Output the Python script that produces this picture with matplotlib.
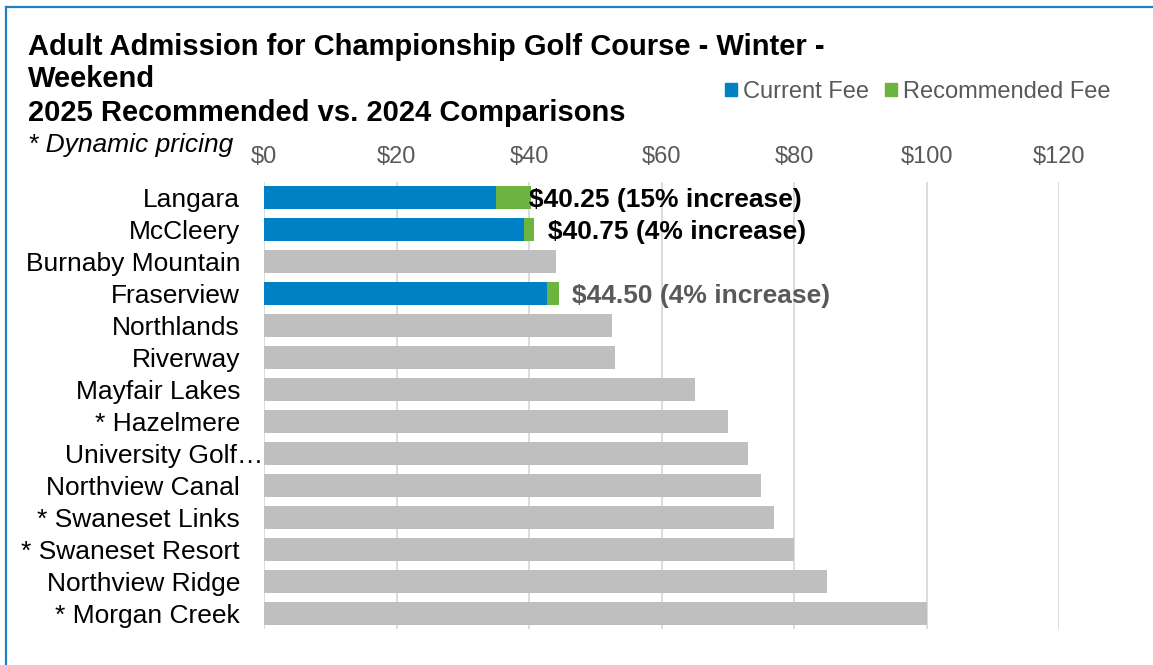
import numpy as np
import matplotlib
matplotlib.use("Agg")
import matplotlib.pyplot as plt
from matplotlib.patches import Patch

plt.rcParams['font.family'] = ['Liberation Sans', 'DejaVu Sans']

courses = ["Langara", "McCleery", "Burnaby Mountain", "Fraserview", "Northlands",
           "Riverway", "Mayfair Lakes", "* Hazelmere", "University Golf\u2026",
           "Northview Canal", "* Swaneset Links", "* Swaneset Resort",
           "Northview Ridge", "* Morgan Creek"]
# total (recommended fee for City courses, comparison fee otherwise)
fees = [40.25, 40.75, 44.00, 44.50, 52.50, 53.00, 65.00, 70.00, 73.00,
        75.00, 77.00, 80.00, 85.00, 100.00]
current_fee = [35.00, 39.25, np.nan, 42.75, np.nan, np.nan, np.nan, np.nan,
               np.nan, np.nan, np.nan, np.nan, np.nan, np.nan]
x_ticks = [0, 20, 40, 60, 80, 100, 120]
x_tick_labels = ["$0", "$20", "$40", "$60", "$80", "$100", "$120"]

BLUE = "#0081C6"
GREEN = "#6DB33F"
GRAY = "#BFBFBF"
GRID = "#D9D9D9"
DARK = "#595959"

W, H = 1153, 665
fig = plt.figure(figsize=(W / 100, H / 100), dpi=100)
ax = fig.add_axes([264 / W, 1 - 629 / H, (1059 - 264) / W, (629 - 182) / H])

y = np.arange(len(courses))
fees_a = np.array(fees)
cur_a = np.array(current_fee)
has_cur = ~np.isnan(cur_a)
bh = 0.72

ax.barh(y[~has_cur], fees_a[~has_cur], height=bh, color=GRAY, zorder=2)
ax.barh(y[has_cur], cur_a[has_cur], height=bh, color=BLUE, zorder=2)
ax.barh(y[has_cur], fees_a[has_cur] - cur_a[has_cur], left=cur_a[has_cur],
        height=bh, color=GREEN, zorder=2)

ax.set_xlim(0, 120)
ax.set_ylim(len(courses) - 0.5, -0.5)
ax.set_xticks(x_ticks)
ax.set_xticklabels(x_tick_labels)
ax.xaxis.tick_top()
ax.tick_params(axis='x', length=0, pad=10, labelsize=17, labelcolor=DARK)
ax.set_yticks([])
for s in ax.spines.values():
    s.set_visible(False)
ax.grid(axis='x', color=GRID, linewidth=1.3, zorder=0)
ax.set_axisbelow(True)

# category labels
trans = ax.get_yaxis_transform()
aw = 1059 - 264
for i, name in enumerate(courses):
    xr = -24 / aw
    if name.startswith("University"):
        xr = -1 / aw
    ax.text(xr, i, name, transform=trans, ha='right', va='center_baseline',
            fontsize=19, color='black')

# value labels for City courses
label_colors = {0: 'black', 1: 'black', 3: DARK}
label_offsets = {0: -2, 1: 14, 3: 13}
for i in np.where(has_cur)[0]:
    pct = round((fees_a[i] / cur_a[i] - 1) * 100)
    txt = f"${fees_a[i]:.2f} ({pct:.0f}% increase)"
    ax.annotate(txt, (fees_a[i], i), xytext=(label_offsets[i] * 0.72, 0),
                textcoords='offset points', ha='left', va='center_baseline',
                fontsize=19, fontweight='bold', color=label_colors[i], zorder=5)

# titles
fig.text(28 / W, 1 - 47 / H, "Adult Admission for Championship Golf Course - Winter -",
         fontsize=21, fontweight='bold', ha='left', va='center')
fig.text(28 / W, 1 - 79 / H, "Weekend", fontsize=21, fontweight='bold',
         ha='left', va='center')
fig.text(28 / W, 1 - 113 / H, "2025 Recommended vs. 2024 Comparisons",
         fontsize=21, fontweight='bold', ha='left', va='center')
fig.text(28 / W, 1 - 145 / H, "* Dynamic pricing", fontsize=19, style='italic',
         ha='left', va='center')

# legend
handles = [Patch(color=BLUE, label="Current Fee"),
           Patch(color=GREEN, label="Recommended Fee")]
leg = fig.legend(handles=handles, loc='center left',
                 bbox_to_anchor=(725 / W, 1 - 92 / H), ncol=2, frameon=False,
                 fontsize=17, handlelength=0.5, handleheight=0.5,
                 handletextpad=0.25, columnspacing=0.7, borderpad=0,
                 borderaxespad=0)
for t in leg.get_texts():
    t.set_color(DARK)

# blue border (left and top)
fig.add_artist(plt.Line2D([6 / W, 6 / W], [0, 1 - 7 / H], color="#1F80C8",
                          linewidth=1.6, transform=fig.transFigure))
fig.add_artist(plt.Line2D([6 / W, 1], [1 - 7 / H, 1 - 7 / H], color="#1F80C8",
                          linewidth=1.6, transform=fig.transFigure))

fig.savefig("out.png", dpi=100)
